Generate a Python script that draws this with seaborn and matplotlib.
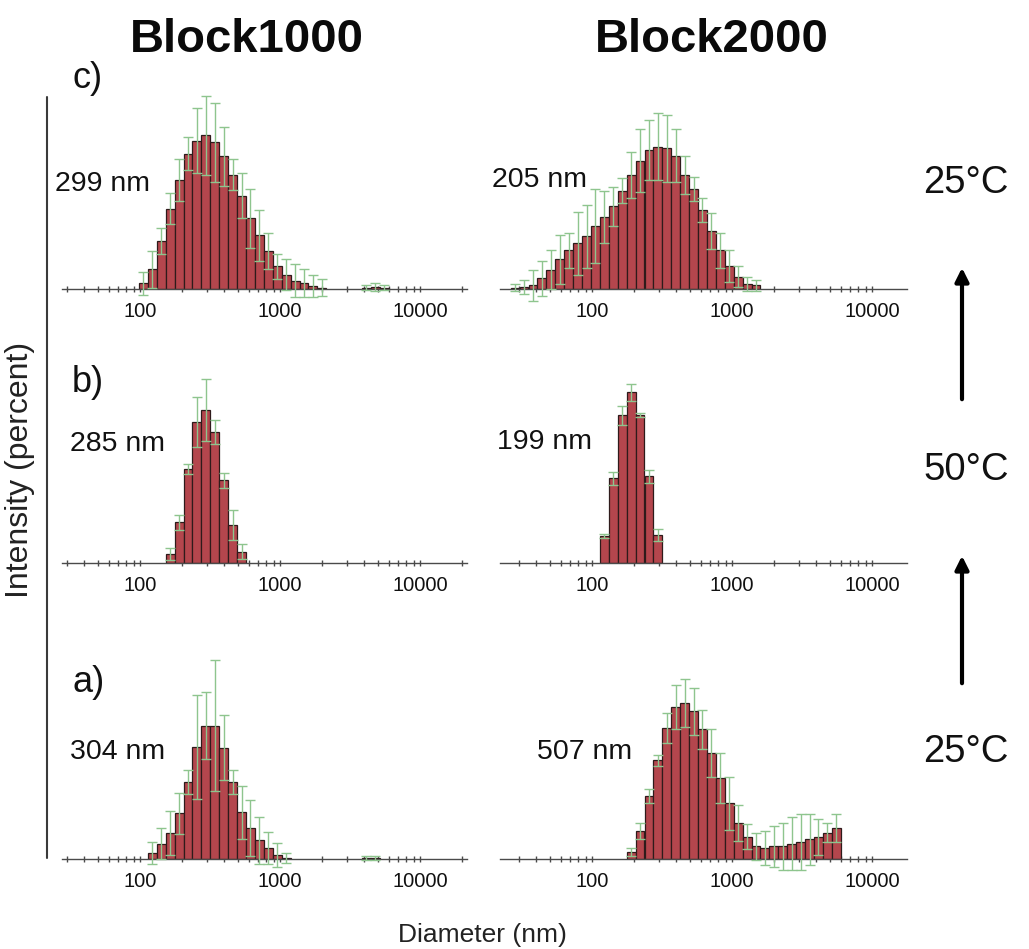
import numpy as np
import matplotlib
matplotlib.use("Agg")
import matplotlib.pyplot as plt
import matplotlib.ticker as mticker
from matplotlib.patches import FancyArrowPatch
from matplotlib.lines import Line2D
import seaborn as sns

# ---------------- data (Malvern size classes, nm; intensity %, sd %) ----------------
c1000_d = [105.7, 122.4, 141.8, 164.2, 190.1, 220.2, 255.0, 295.3, 342.0, 396.1, 458.7, 531.2,
           615.1, 712.4, 825.0, 955.4, 1106, 1281, 1484, 1718, 1990, 4145, 4801, 5560]
c1000_int = [0.4, 1.4, 3.4, 5.7, 7.7, 9.6, 10.5, 10.9, 10.4, 9.4, 8.1, 6.6,
             5.0, 3.8, 2.7, 1.6, 1.0, 0.6, 0.4, 0.2, 0.1, 0.1, 0.15, 0.1]
c1000_sd = [0.8, 1.3, 0.9, 1.1, 1.5, 1.2, 2.3, 2.8, 2.8, 2.1, 1.1, 1.6,
            2.1, 1.8, 1.3, 0.9, 1.1, 1.2, 1.0, 0.8, 0.6, 0.2, 0.3, 0.2]

c2000_d = [28.21, 32.67, 37.84, 43.82, 50.75, 58.77, 68.06, 78.82, 91.28, 105.7, 122.4, 141.8,
           164.2, 190.1, 220.2, 255.0, 295.3, 342.0, 396.1, 458.7, 531.2, 615.1, 712.4, 825.0,
           955.4, 1106, 1281, 1484]
c2000_int = [0.06, 0.1, 0.2, 0.6, 1.1, 1.7, 2.2, 2.6, 3.0, 3.6, 4.1, 4.7,
             5.6, 6.5, 7.3, 7.9, 8.1, 8.0, 7.6, 6.5, 5.7, 4.5, 3.3, 2.2,
             1.3, 0.7, 0.3, 0.2]
c2000_sd = [0.2, 0.4, 0.9, 1.0, 1.1, 1.4, 1.0, 1.8, 1.8, 2.1, 1.5, 1.1,
            0.7, 1.3, 1.8, 1.7, 1.9, 1.9, 1.5, 1.1, 0.7, 0.7, 1.0, 1.0,
            0.9, 0.6, 0.4, 0.3]

b1000_d = [164.2, 190.1, 220.2, 255.0, 295.3, 342.0, 396.1, 458.7, 531.2]
b1000_int = [1.3, 5.8, 13.4, 20.1, 21.8, 18.7, 11.8, 5.4, 1.6]
b1000_sd = [0.9, 1.1, 0.7, 3.6, 4.4, 1.7, 1.1, 2.1, 1.1]

b2000_d = [122.4, 141.8, 164.2, 190.1, 220.2, 255.0, 295.3]
b2000_int = [3.9, 12.2, 21.3, 24.6, 21.3, 12.5, 4.0]
b2000_sd = [0.3, 0.9, 1.4, 1.2, 0.3, 0.9, 0.9]

a1000_d = [122.4, 141.8, 164.2, 190.1, 220.2, 255.0, 295.3, 342.0, 396.1, 458.7, 531.2, 615.1,
           712.4, 825.0, 955.4, 1106, 4145, 4801]
a1000_int = [0.7, 1.8, 3.1, 5.4, 9.1, 13.2, 15.7, 15.7, 13.1, 9.1, 5.5, 3.7,
             2.2, 1.3, 0.5, 0.1, 0.1, 0.1]
a1000_sd = [1.3, 1.8, 2.6, 2.4, 1.4, 6.1, 3.9, 7.7, 3.8, 1.4, 3.1, 3.3,
            2.8, 1.9, 1.4, 0.6, 0.2, 0.2]

a2000_d = [190.1, 220.2, 255.0, 295.3, 342.0, 396.1, 458.7, 531.2, 615.1, 712.4, 825.0, 955.4,
           1106, 1281, 1484, 1718, 1990, 2305, 2669, 3091, 3580, 4145, 4801, 5560]
a2000_int = [0.5, 2.0, 4.5, 7.1, 9.4, 10.9, 11.2, 10.6, 9.3, 7.6, 5.8, 4.0,
             2.6, 1.6, 0.9, 0.8, 0.9, 0.9, 1.1, 1.2, 1.4, 1.6, 1.9, 2.2]
a2000_sd = [0.3, 0.6, 0.5, 0.4, 1.1, 1.6, 1.7, 1.7, 1.4, 1.7, 1.8, 1.9,
            1.3, 0.9, 1.0, 1.2, 1.5, 1.7, 1.9, 2.0, 1.8, 1.3, 0.7, 1.0]

col_titles = ["Block1000", "Block2000"]
panel_letters = ["c)", "b)", "a)"]
peak_labels = [["299 nm", "205 nm"], ["285 nm", "199 nm"], ["304 nm", "507 nm"]]
temps = ["25°C", "50°C", "25°C"]
tick_vals = [100, 1000, 10000]
tick_text = ["100", "1000", "10000"]

# ---------------- style ----------------
sns.set_theme(style="white")
plt.rcParams["font.family"] = ["Liberation Sans", "DejaVu Sans"]

W, H = 1029, 949
fig = plt.figure(figsize=(W / 100, H / 100), dpi=100)
fig.patch.set_facecolor("white")

bar_color = "#b4464d"
edge_color = "#2e1b1b"
err_color = "#8ec58e"
axis_color = "#4a4a4a"

cols_px = [(62, 467, (27.7, 21670)), (500, 907, (22.0, 17780))]
rows_px = [(90, 289), (375, 563), (650, 859)]
ymax = [[14.1, 11.33], [26.8, 27.1], [24.6, 15.0]]
series = [[(c1000_d, c1000_int, c1000_sd), (c2000_d, c2000_int, c2000_sd)],
          [(b1000_d, b1000_int, b1000_sd), (b2000_d, b2000_int, b2000_sd)],
          [(a1000_d, a1000_int, a1000_sd), (a2000_d, a2000_int, a2000_sd)]]


def px_rect(x0, x1, ytop, ybot):
    return [x0 / W, 1 - ybot / H, (x1 - x0) / W, (ybot - ytop) / H]


for r, (yt, yb) in enumerate(rows_px):
    for c, (x0, x1, xl) in enumerate(cols_px):
        ax = fig.add_axes(px_rect(x0, x1, yt, yb))
        d, v, s = series[r][c]
        sns.barplot(x=d, y=v, native_scale=True, log_scale=(True, False), width=1,
                    color=bar_color, saturation=1, edgecolor=edge_color, linewidth=0.9,
                    errorbar=None, ax=ax)
        ax.errorbar(d, v, yerr=s, fmt="none", ecolor=err_color, elinewidth=1.0,
                    capsize=3.5, capthick=1.0, clip_on=False, zorder=3)
        ax.set_xscale("log")
        ax.set_xlim(*xl)
        ax.set_ylim(0, ymax[r][c])
        ax.set_facecolor("none")
        for sp in ["top", "right", "left"]:
            ax.spines[sp].set_visible(False)
        ax.spines["bottom"].set_color(axis_color)
        ax.spines["bottom"].set_linewidth(1.0)
        ax.set_yticks([])
        ax.set_ylabel("")
        ax.set_xlabel("")
        ax.xaxis.set_major_locator(mticker.FixedLocator(tick_vals))
        ax.xaxis.set_major_formatter(mticker.FixedFormatter(tick_text))
        ax.xaxis.set_minor_locator(mticker.LogLocator(base=10, subs=np.arange(2, 10)))
        ax.xaxis.set_minor_formatter(mticker.NullFormatter())
        ax.tick_params(axis="x", which="both", direction="inout", length=5, width=1.0,
                       color=axis_color, labelsize=14.5, pad=7, labelcolor="#111111",
                       bottom=True)

# column titles
fig.text(247 / W, 1 - 40 / H, col_titles[0], ha="center", va="center",
         fontsize=34, fontweight="bold", color="#0a0a0a")
fig.text(712 / W, 1 - 40 / H, col_titles[1], ha="center", va="center",
         fontsize=34, fontweight="bold", color="#0a0a0a")

# panel letters
for (yc, lab) in zip([78, 382, 683], panel_letters):
    fig.text(72 / W, 1 - yc / H, lab, ha="left", va="center", fontsize=26, color="#111111")

# peak size labels
peak_pos = [[(55, 184), (492, 180)], [(70, 444), (497, 442)], [(70, 752), (537, 752)]]
for r in range(3):
    for c in range(2):
        x, y = peak_pos[r][c]
        fig.text(x / W, 1 - y / H, peak_labels[r][c], ha="left", va="center",
                 fontsize=20.5, color="#111111")

# temperatures and arrows
for yc, t in zip([183, 470, 752], temps):
    fig.text(966 / W, 1 - yc / H, t, ha="center", va="center", fontsize=27.5, color="#111111")
for (y0, y1) in [(402, 265), (686, 553)]:
    fig.add_artist(FancyArrowPatch((962 / W, 1 - y0 / H), (962 / W, 1 - y1 / H),
                                   transform=fig.transFigure, arrowstyle="-|>",
                                   mutation_scale=20, lw=3.0, color="black"))

# left vertical line, axis titles
fig.add_artist(Line2D([47 / W, 47 / W], [1 - 97 / H, 1 - 858 / H], transform=fig.transFigure,
                      color="#3a3a3a", lw=1.5))
fig.text(20 / W, 1 - 470 / H, "Intensity (percent)", rotation=90, ha="center", va="center",
         fontsize=23, color="#222222")
fig.text(482 / W, 1 - 935 / H, "Diameter (nm)", ha="center", va="center",
         fontsize=19, color="#222222")

fig.savefig("out.png", dpi=100, facecolor="white")
